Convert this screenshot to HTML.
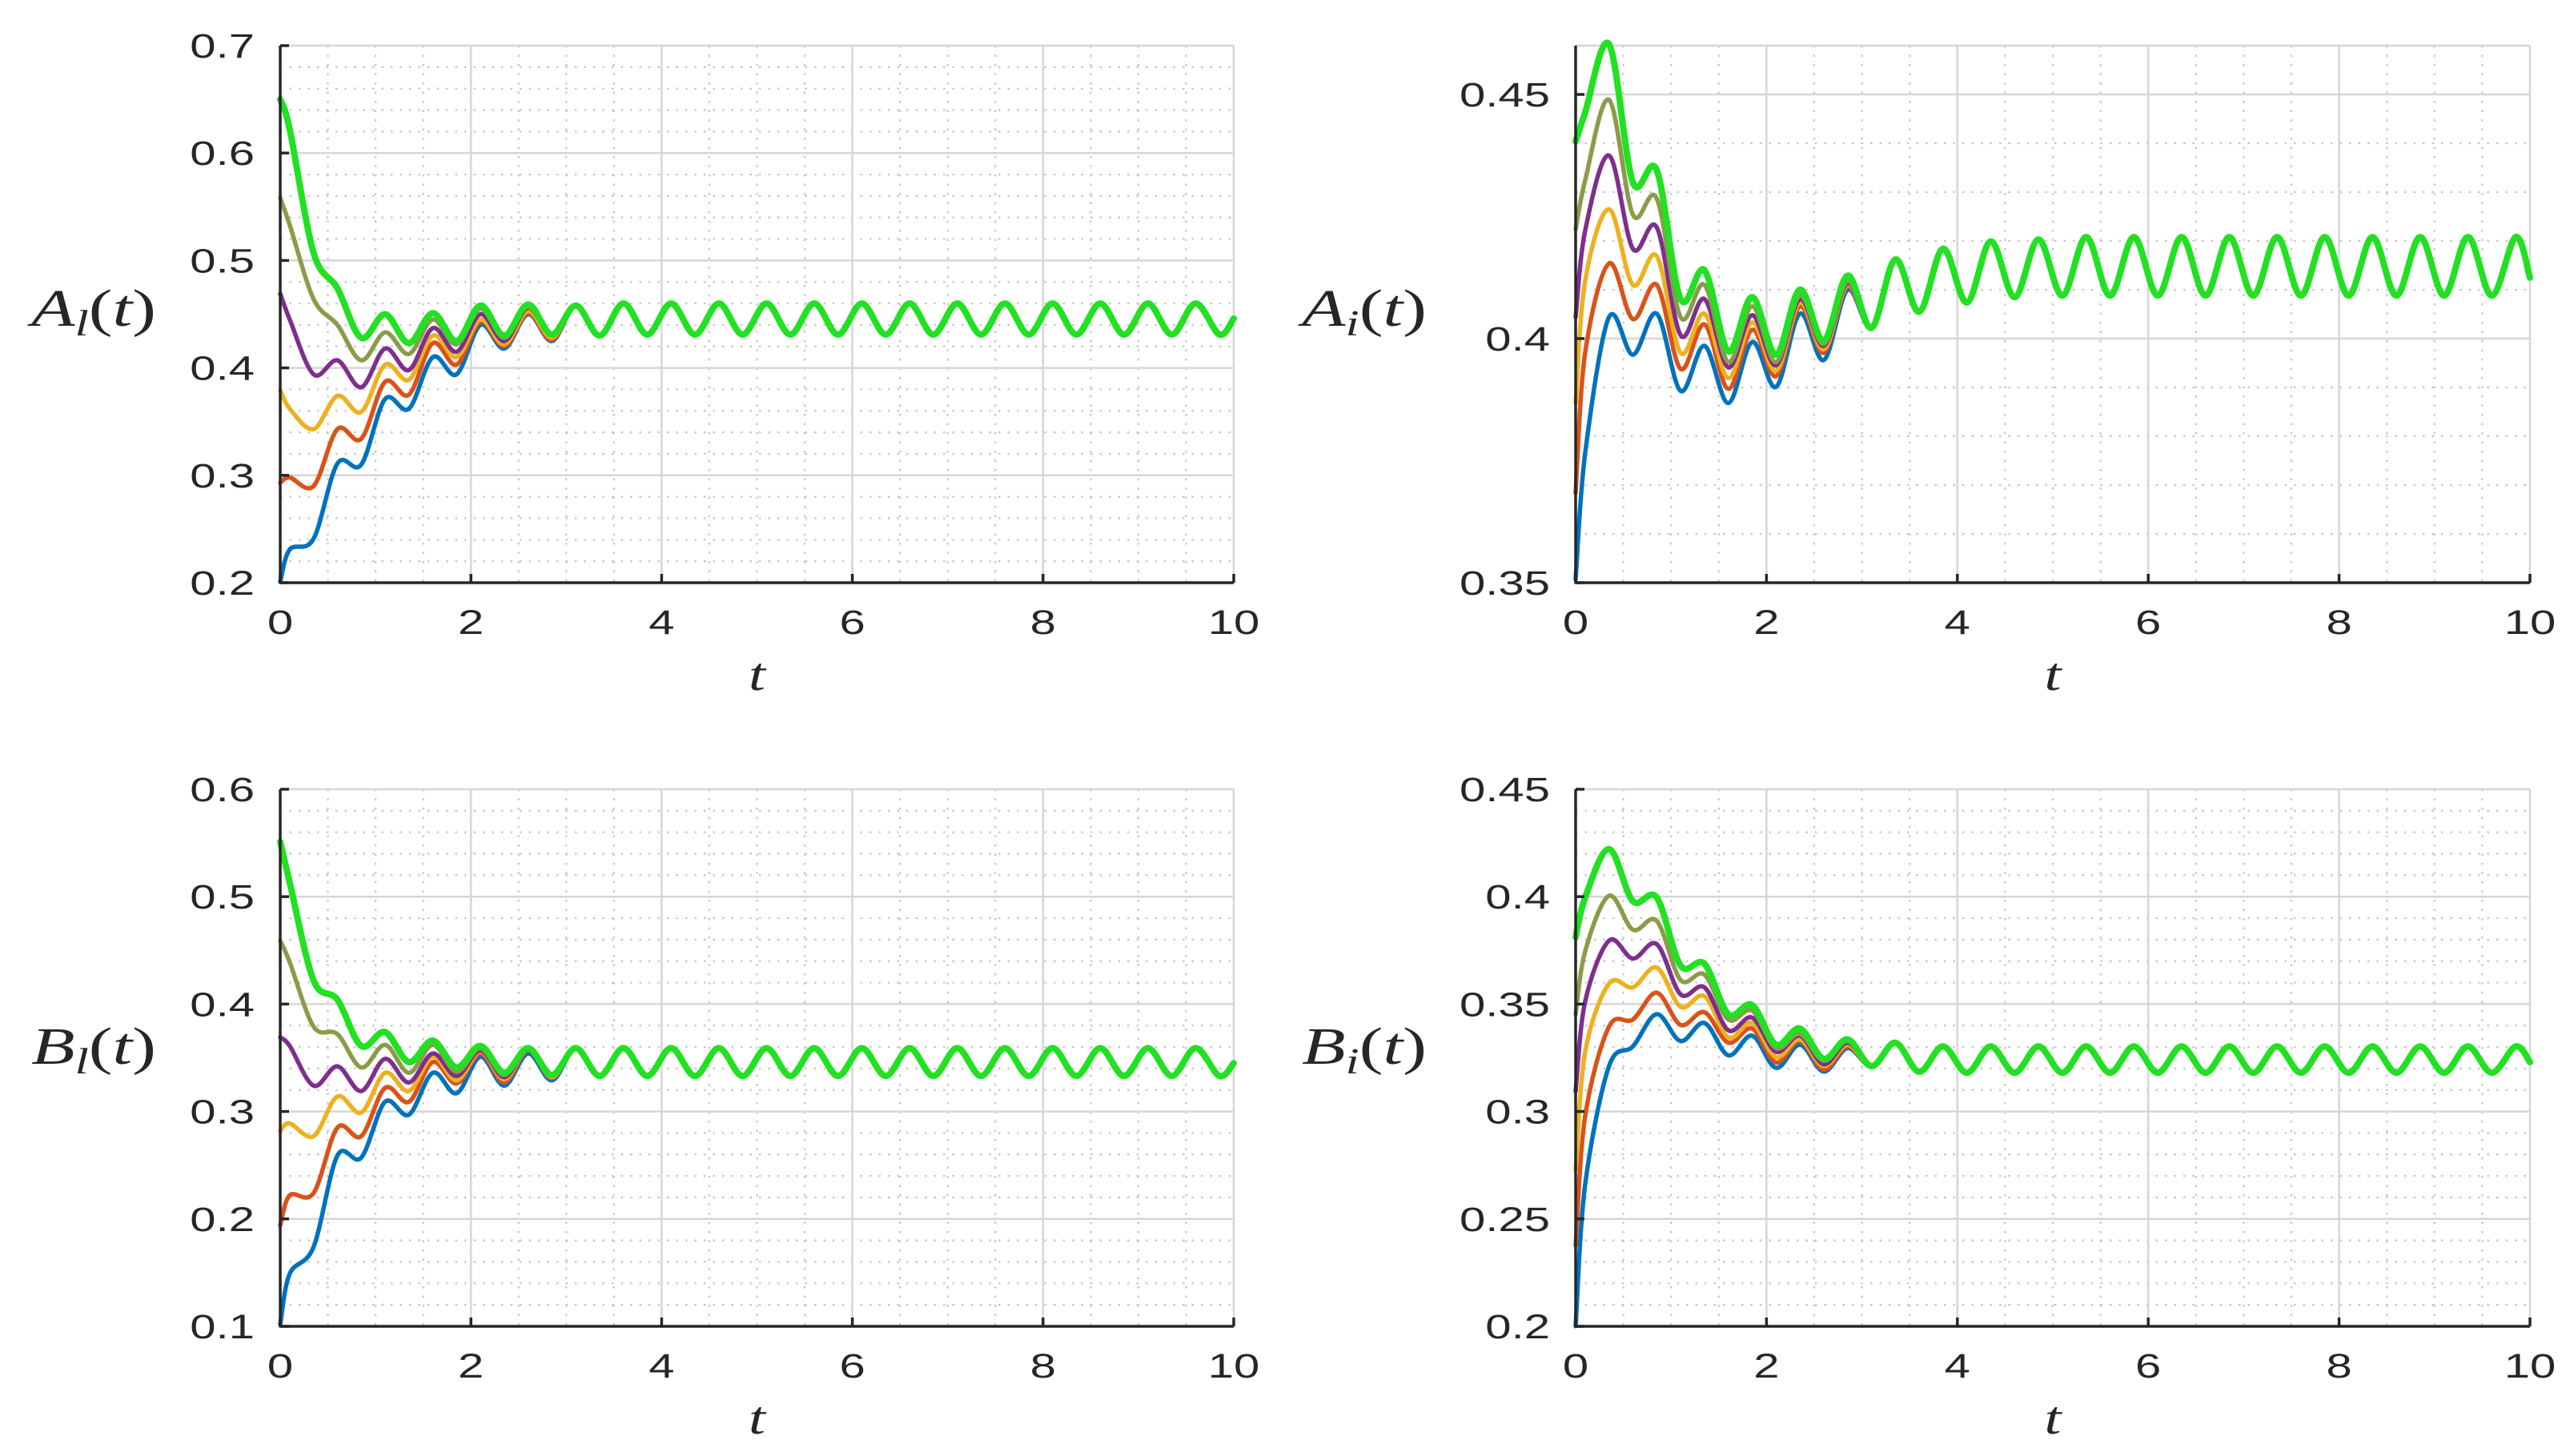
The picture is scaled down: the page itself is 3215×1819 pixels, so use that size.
<!DOCTYPE html>
<html><head><meta charset="utf-8">
<style>
html,body{margin:0;padding:0;background:#fff;}
svg{display:block;}
</style></head>
<body>
<svg id="fig" width="3215" height="1819" viewBox="0 0 3215 1819" xmlns="http://www.w3.org/2000/svg">
<rect x="0" y="0" width="3215" height="1819" fill="#ffffff"/>
</svg>
<script>
// ---- shared time grid ----
const times = [0,0.1,0.35,0.6,0.85,1.1,1.35,1.6,1.85,2.1,2.35,2.6,2.85,3.1,3.35,3.6,3.85,4.1,4.35,4.6,4.85,5.1,5.35,5.6,5.85,6.1,6.35,6.6,6.85,7.1,7.35,7.6,7.85,8.1,8.35,8.6,8.85,9.1,9.35,9.6,9.85,10];
const seriesNames = ["blue","orange","yellow","purple","olive","green"];
const seriesColors = ["#0072BD","#D95319","#EDB120","#7E2F8E","#8a9c48","#22e022"];

// ---- A_l(t) (top-left) ----
const alBlue   = [0.201,0.231,0.241,0.311,0.310,0.371,0.362,0.410,0.394,0.440,0.418,0.450,0.425];
const alOrange = [0.293,0.298,0.290,0.343,0.334,0.387,0.375,0.423,0.403,0.443,0.420,0.451,0.426];
const alYellow = [0.379,0.362,0.343,0.374,0.359,0.403,0.389,0.430,0.410,0.445,0.422,0.453,0.428];
const alPurple = [0.469,0.445,0.394,0.407,0.382,0.418,0.398,0.437,0.415,0.450,0.425,0.456,0.430];
const alOlive  = [0.558,0.533,0.464,0.440,0.407,0.433,0.413,0.445,0.422,0.455,0.428,0.457,0.430];
const alGreen  = [0.650,0.622,0.507,0.474,0.428,0.450,0.423,0.451,0.425,0.458,0.430,0.459,0.431];
const alTail   = [0.458,0.430,0.460,0.431,0.460,0.431,0.460,0.431,0.460,0.431,0.460,0.431,0.460,0.431,0.460,0.431,0.460,0.431,0.460,0.431,0.460,0.431,0.460,0.431,0.460,0.431,0.460,0.431,0.446];
const alTicks  = [0.2,0.3,0.4,0.5,0.6,0.7];
const alTickLabels = ["0.2","0.3","0.4","0.5","0.6","0.7"];

// ---- A_i(t) (top-right) ----
const aiBlue   = [0.3507,0.3765,0.4044,0.3967,0.4051,0.3893,0.3985,0.3868,0.3993,0.3901,0.4051,0.3956,0.4100];
const aiOrange = [0.3684,0.3971,0.4154,0.4040,0.4110,0.3938,0.4029,0.3897,0.4018,0.3923,0.4066,0.3971,0.4107];
const aiYellow = [0.3868,0.4118,0.4265,0.4110,0.4169,0.3971,0.4051,0.3919,0.4033,0.3934,0.4074,0.3978,0.4110];
const aiPurple = [0.4044,0.4221,0.4375,0.4184,0.4228,0.4007,0.4081,0.3941,0.4048,0.3945,0.4081,0.3985,0.4114];
const aiOlive  = [0.4224,0.4324,0.4489,0.4254,0.4287,0.4044,0.4110,0.3952,0.4066,0.3952,0.4088,0.3989,0.4118];
const aiGreen  = [0.4404,0.4463,0.4603,0.4320,0.4345,0.4081,0.4140,0.3974,0.4085,0.3967,0.4100,0.3996,0.4129];
const aiTail   = [0.4022,0.4162,0.4055,0.4184,0.4074,0.4199,0.4085,0.4203,0.4088,0.4208,0.4088,0.4208,0.4088,0.4208,0.4088,0.4208,0.4088,0.4208,0.4088,0.4208,0.4088,0.4208,0.4088,0.4208,0.4088,0.4208,0.4088,0.4208,0.4125];
const aiTicks  = [0.35,0.4,0.45];
const aiTickLabels = ["0.35","0.4","0.45"];

// ---- B_l(t) (bottom-left) ----
const blBlue   = [0.102,0.149,0.174,0.259,0.257,0.309,0.297,0.336,0.317,0.351,0.324,0.354,0.329];
const blOrange = [0.194,0.222,0.224,0.285,0.277,0.322,0.309,0.346,0.326,0.354,0.327,0.357,0.331];
const blYellow = [0.282,0.289,0.277,0.314,0.299,0.336,0.319,0.351,0.329,0.356,0.330,0.358,0.332];
const blPurple = [0.369,0.361,0.324,0.342,0.319,0.349,0.327,0.354,0.333,0.357,0.332,0.358,0.333];
const blOlive  = [0.459,0.439,0.379,0.372,0.341,0.362,0.336,0.362,0.337,0.359,0.334,0.359,0.333];
const blGreen  = [0.551,0.513,0.422,0.404,0.361,0.374,0.346,0.366,0.341,0.361,0.336,0.359,0.334];
const blTail   = [0.359,0.333,0.359,0.333,0.359,0.333,0.359,0.333,0.359,0.333,0.359,0.333,0.359,0.333,0.359,0.333,0.359,0.333,0.359,0.333,0.359,0.333,0.359,0.333,0.359,0.333,0.359,0.333,0.345];
const blTicks  = [0.1,0.2,0.3,0.4,0.5,0.6];
const blTickLabels = ["0.1","0.2","0.3","0.4","0.5","0.6"];

// ---- B_i(t) (bottom-right) ----
const biBlue   = [0.2001,0.2660,0.3211,0.3303,0.3453,0.3328,0.3412,0.3261,0.3353,0.3203,0.3311,0.3186,0.3295];
const biOrange = [0.2376,0.2978,0.3395,0.3428,0.3553,0.3403,0.3462,0.3320,0.3386,0.3228,0.3328,0.3195,0.3303];
const biYellow = [0.2727,0.3278,0.3595,0.3578,0.3670,0.3487,0.3537,0.3345,0.3412,0.3253,0.3336,0.3211,0.3311];
const biPurple = [0.3094,0.3512,0.3795,0.3712,0.3779,0.3545,0.3578,0.3378,0.3437,0.3278,0.3353,0.3220,0.3320];
const biOlive  = [0.3453,0.3745,0.4004,0.3846,0.3887,0.3612,0.3637,0.3428,0.3470,0.3295,0.3361,0.3236,0.3328];
const biGreen  = [0.3812,0.3996,0.4221,0.3979,0.3996,0.3679,0.3687,0.3453,0.3495,0.3311,0.3386,0.3245,0.3336];
const biTail   = [0.3211,0.3320,0.3185,0.3303,0.3180,0.3303,0.3180,0.3303,0.3180,0.3303,0.3180,0.3303,0.3180,0.3303,0.3180,0.3303,0.3180,0.3303,0.3180,0.3303,0.3180,0.3303,0.3180,0.3303,0.3180,0.3303,0.3180,0.3303,0.3230];
const biTicks  = [0.2,0.25,0.3,0.35,0.4,0.45];
const biTickLabels = ["0.2","0.25","0.3","0.35","0.4","0.45"];

const xTicks = [0,2,4,6,8,10];
const xTickLabels = ["0","2","4","6","8","10"];

const NS = "http://www.w3.org/2000/svg";
const svg = document.getElementById("fig");

function mk(tag, attrs, parent){
  const e = document.createElementNS(NS, tag);
  for (const k in attrs) e.setAttribute(k, attrs[k]);
  (parent||svg).appendChild(e);
  return e;
}

function smoothPath(pts){
  let d = "M" + pts[0][0].toFixed(1) + "," + pts[0][1].toFixed(1);
  for (let i=0;i<pts.length-1;i++){
    const p0 = pts[Math.max(i-1,0)], p1 = pts[i], p2 = pts[i+1], p3 = pts[Math.min(i+2,pts.length-1)];
    const c1x = p1[0] + (p2[0]-p0[0])/6, c1y = p1[1] + (p2[1]-p0[1])/6;
    const c2x = p2[0] - (p3[0]-p1[0])/6, c2y = p2[1] - (p3[1]-p1[1])/6;
    d += " C" + c1x.toFixed(1)+","+c1y.toFixed(1)+" "+c2x.toFixed(1)+","+c2y.toFixed(1)+" "+p2[0].toFixed(1)+","+p2[1].toFixed(1);
  }
  return d;
}

function drawPanel(cfg){
  const g = mk("g", {});
  
  
  const xs = t => cfg.x0 + (t - 0) / 10 * (cfg.x1 - cfg.x0);
  const ys = v => cfg.yb - (v - cfg.ymin) / (cfg.ymax - cfg.ymin) * (cfg.yb - cfg.yt);

  // minor grid
  const minorG = mk("g", {stroke:"#c4c4c4","stroke-width":"2.2","stroke-dasharray":"2.5 9"}, g);
  
  
  for (let k=1;k<20;k++){
    if (k%4===0) continue;
    const x = xs(k*0.5);
    mk("line",{x1:x,y1:cfg.yt,x2:x,y2:cfg.yb},minorG);
  }
  const nMinor = Math.round((cfg.ymax - cfg.ymin)/cfg.minor);
  for (let k=1;k<=nMinor;k++){
    const v = cfg.ymin + k*cfg.minor;
    if (cfg.ticks.some(tv => Math.abs(tv - v) < 1e-6)) continue;
    if (v > cfg.ymax + 1e-9) continue;
    const y = ys(v);
    mk("line",{x1:cfg.x0,y1:y,x2:cfg.x1,y2:y},minorG);
  }
  // major grid
  const majorG = mk("g", {stroke:"#d6d6d6","stroke-width":"2.5"}, g);
  
  
  xTicks.forEach(t => { if (t>0) mk("line",{x1:xs(t),y1:cfg.yt,x2:xs(t),y2:cfg.yb},majorG); });
  cfg.ticks.forEach(v => { if (v>cfg.ymin+1e-9) mk("line",{x1:cfg.x0,y1:ys(v),x2:cfg.x1,y2:ys(v)},majorG); });
  if (Math.abs(cfg.ticks[cfg.ticks.length-1]-cfg.ymax)>1e-6) mk("line",{x1:cfg.x0,y1:cfg.yt,x2:cfg.x1,y2:cfg.yt},majorG);

  // series
  cfg.series.forEach((arr, si) => {
    const vals = arr.concat(cfg.tail);
    const n = Math.min(vals.length, times.length);
    const pts = [];
    for (let i=0;i<n;i++) pts.push([xs(times[i]), ys(vals[i])]);
    const p = mk("path", {d: smoothPath(pts), fill:"none", stroke: seriesColors[si],
      "stroke-width": si===5 ? "8" : "5.5", "stroke-linejoin":"round","stroke-linecap":"round"}, g);
    
    
  });

  // axes spines
  const ax = mk("g", {stroke:"#262626","stroke-width":"3.5",fill:"none"}, g);
  
  
  mk("line",{x1:cfg.x0,y1:cfg.yt,x2:cfg.x0,y2:cfg.yb+1.5},ax);
  mk("line",{x1:cfg.x0,y1:cfg.yb,x2:cfg.x1,y2:cfg.yb},ax);
  xTicks.forEach(t => mk("line",{x1:xs(t),y1:cfg.yb,x2:xs(t),y2:cfg.yb-11},ax));
  cfg.ticks.forEach(v => mk("line",{x1:cfg.x0,y1:ys(v),x2:cfg.x0+11,y2:ys(v)},ax));

  // tick labels
  cfg.ticks.forEach((v,i) => {
    const t = mk("text",{transform:"translate("+(cfg.x0-32)+","+(ys(v)+15)+") scale(1.35,1)","text-anchor":"end",
      "font-family":"Liberation Sans, Arial, sans-serif","font-size":"43",fill:"#262626"}, g);
    t.textContent = cfg.tickLabels[i];
    
    
  });
  xTicks.forEach((tv,i) => {
    const t = mk("text",{transform:"translate("+xs(tv)+","+(cfg.yb+64)+") scale(1.35,1)","text-anchor":"middle",
      "font-family":"Liberation Sans, Arial, sans-serif","font-size":"43",fill:"#262626"}, g);
    t.textContent = xTickLabels[i];
    
    
  });

  // x-axis title
  const xt = mk("text",{transform:"translate("+((cfg.x0+cfg.x1)/2)+","+(cfg.yb+134)+") scale(1.3,1)","text-anchor":"middle",
    "font-family":"Liberation Serif, serif","font-style":"italic","font-size":"58",fill:"#262626"}, g);
  xt.textContent = "t";
  
  

  // y-axis title
  const yt = mk("text",{transform:"translate("+cfg.lx+","+(cfg.ly+17)+") scale(1.35,1)","text-anchor":"middle",
    "font-family":"Liberation Serif, serif","font-size":"66",fill:"#262626"}, g);
  
  
  const s1 = mk("tspan",{"font-style":"italic"}, yt); s1.textContent = cfg.letter;
  const s2 = mk("tspan",{"font-style":"italic","font-size":"46",dy:"12"}, yt); s2.textContent = cfg.sub;
  const s3 = mk("tspan",{dy:"-12"}, yt); s3.textContent = "(";
  const s4 = mk("tspan",{"font-style":"italic"}, yt); s4.textContent = "t";
  const s5 = mk("tspan",{}, yt); s5.textContent = ")";
}

drawPanel({name:"panel-A-l", prefix:"al", x0:350, x1:1541, yt:57, yb:728, ymin:0.2, ymax:0.7, minor:0.02,
  ticks:alTicks, tickLabels:alTickLabels, series:[alBlue,alOrange,alYellow,alPurple,alOlive,alGreen], tail:alTail,
  letter:"A", sub:"l", lx:117, ly:390});
drawPanel({name:"panel-A-i", prefix:"ai", x0:1968, x1:3160, yt:57, yb:728, ymin:0.35, ymax:0.46, minor:0.01,
  ticks:aiTicks, tickLabels:aiTickLabels, series:[aiBlue,aiOrange,aiYellow,aiPurple,aiOlive,aiGreen], tail:aiTail,
  letter:"A", sub:"i", lx:1704, ly:390});
drawPanel({name:"panel-B-l", prefix:"bl", x0:350, x1:1541, yt:986, yb:1657, ymin:0.1, ymax:0.6, minor:0.02,
  ticks:blTicks, tickLabels:blTickLabels, series:[blBlue,blOrange,blYellow,blPurple,blOlive,blGreen], tail:blTail,
  letter:"B", sub:"l", lx:117, ly:1312});
drawPanel({name:"panel-B-i", prefix:"bi", x0:1968, x1:3160, yt:986, yb:1657, ymin:0.2, ymax:0.45, minor:0.01,
  ticks:biTicks, tickLabels:biTickLabels, series:[biBlue,biOrange,biYellow,biPurple,biOlive,biGreen], tail:biTail,
  letter:"B", sub:"i", lx:1704, ly:1312});
</script>
</body></html>
